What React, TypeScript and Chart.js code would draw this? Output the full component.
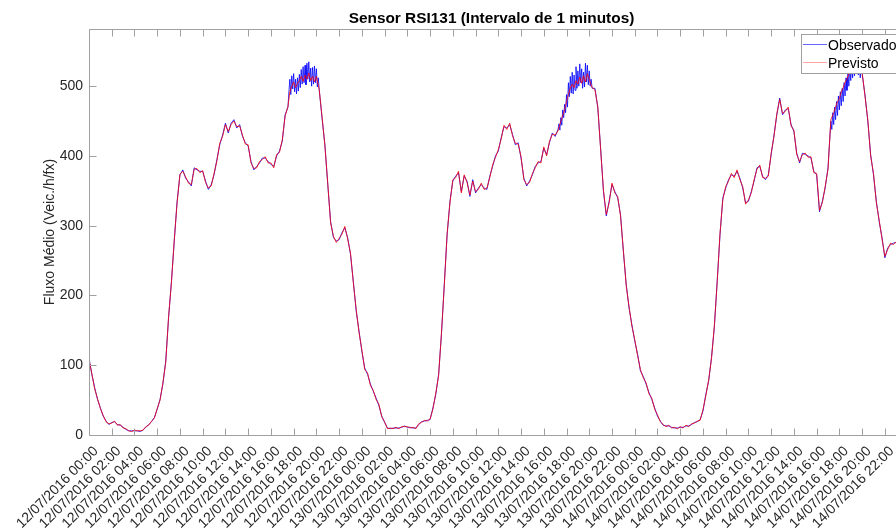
import React, { useEffect, useRef } from "react";
import { Chart, registerables } from "chart.js";

Chart.register(...registerables);

// ---------- data ----------
const START_DAY = 12;
const BASE_STEP_MIN = 15;

// Observado, every 15 minutes from 12/07/2016 00:00 to 14/07/2016 23:00
const observado = [
  110, 87, 68, 51, 39, 27, 20, 15, 18, 19, 15, 14, 11, 8, 6, 6, 6, 6, 5, 7, 11, 15, 19, 25,
  37, 51, 73, 106, 168, 220, 278, 335, 373, 380, 368, 363, 357, 383, 380, 378, 378, 364, 352, 359, 373, 395, 416, 430,
  447, 433, 447, 452, 440, 445, 428, 419, 414, 392, 380, 385, 390, 397, 397, 392, 388, 385, 400, 407, 421, 459, 471, 502,
  505, 500, 505, 516, 512, 521, 512, 512, 516, 495, 454, 416, 359, 306, 283, 278, 280, 290, 297, 283, 259, 220, 178, 149,
  120, 96, 87, 73, 63, 53, 42, 27, 18, 10, 9, 10, 10, 10, 11, 13, 11, 11, 10, 10, 15, 19, 20, 21,
  22, 39, 58, 87, 144, 216, 287, 335, 364, 371, 376, 349, 371, 364, 342, 366, 347, 354, 359, 354, 352, 371, 385, 400,
  407, 426, 442, 440, 445, 431, 416, 419, 397, 368, 357, 364, 373, 385, 390, 392, 411, 402, 419, 433, 428, 438, 450, 462,
  476, 495, 502, 505, 509, 516, 509, 516, 512, 497, 497, 469, 411, 349, 314, 335, 359, 349, 340, 316, 263, 216, 182, 158,
  135, 116, 92, 84, 73, 61, 51, 39, 27, 20, 14, 13, 13, 11, 10, 10, 11, 11, 13, 13, 15, 18, 19, 22,
  34, 58, 77, 111, 154, 220, 287, 340, 354, 366, 373, 371, 378, 368, 354, 333, 335, 349, 364, 383, 385, 371, 366, 373,
  402, 430, 459, 483, 459, 466, 468, 445, 435, 404, 390, 404, 402, 400, 397, 378, 373, 320, 335, 354, 383, 454, 464, 473,
  483, 490, 502, 515, 522, 528, 532, 528, 520, 488, 450, 402, 373, 335, 306, 283, 254, 268, 273, 275, 276,
];

// Previsto, every 15 minutes
const previsto = [
  108, 88, 66, 52, 38, 28, 19, 16, 17, 20, 14, 15, 10, 9, 6, 5, 7, 6, 6, 7, 12, 14, 20, 24,
  38, 50, 75, 104, 170, 218, 280, 333, 374, 378, 370, 361, 359, 381, 382, 376, 379, 362, 354, 357, 375, 393, 418, 428,
  445, 435, 445, 450, 442, 443, 430, 417, 416, 390, 382, 383, 392, 395, 399, 390, 390, 383, 402, 405, 423, 457, 471, 500,
  504, 502, 503, 512, 510, 517, 510, 511, 514, 495, 456, 414, 361, 304, 285, 276, 282, 288, 299, 281, 261, 218, 180, 147,
  122, 94, 89, 71, 64, 51, 44, 26, 19, 9, 10, 9, 11, 9, 12, 12, 12, 10, 11, 9, 16, 18, 21, 20,
  23, 37, 60, 85, 146, 214, 289, 333, 366, 369, 378, 347, 373, 362, 344, 364, 349, 352, 361, 352, 354, 369, 387, 398,
  409, 424, 444, 438, 447, 429, 418, 417, 399, 366, 359, 362, 375, 383, 392, 390, 413, 400, 421, 431, 430, 436, 452, 460,
  478, 493, 500, 504, 507, 512, 507, 512, 510, 498, 495, 471, 409, 351, 316, 333, 361, 347, 342, 314, 265, 214, 184, 156,
  137, 114, 94, 82, 75, 59, 53, 37, 29, 19, 15, 12, 14, 10, 11, 9, 12, 10, 14, 12, 16, 17, 20, 21,
  36, 56, 79, 109, 156, 218, 289, 338, 356, 364, 375, 369, 380, 366, 356, 331, 337, 347, 366, 381, 387, 369, 368, 371,
  404, 428, 461, 481, 461, 464, 470, 443, 437, 402, 392, 402, 404, 398, 399, 376, 375, 322, 333, 356, 381, 452, 462, 471,
  481, 492, 500, 512, 518, 524, 528, 526, 522, 486, 452, 400, 375, 333, 308, 281, 256, 266, 275, 273, 277,
];

// Observado at the evening peaks, every 5 minutes
const obsPeak1Start = 1050; // 12/07 17:30
const obsPeak1 = [
  470, 492, 510, 488, 515, 496, 518, 492, 510, 489, 512, 493, 517, 498, 524, 503, 528,
  505, 530, 502, 533, 510, 535, 506, 526, 500, 527, 503, 529, 505, 525, 499, 512, 495,
];
const obsPeak2Start = 2475; // 13/07 17:15
const obsPeak2 = [
  438, 446, 437, 455, 444, 466, 455, 474, 462, 488, 470, 505, 485, 514, 490, 520, 489, 516, 494,
  528, 497, 522, 500, 532, 505, 525, 497, 520, 499, 533, 506, 530, 502, 522, 500, 510, 497,
];
const obsPeak3Start = 3915; // 14/07 17:15
const obsPeak3 = [
  450, 438, 462, 445, 470, 452, 478, 458, 486, 466, 492, 472, 497, 478, 505, 486, 512,
  494, 520, 500, 528, 508, 533, 512, 538, 515, 540, 520, 538, 516, 534, 512, 530, 518,
];

// Previsto at the evening peaks, every 10 minutes
const prevPeak1Start = 1050;
const prevPeak1 = [471, 492, 500, 506, 498, 504, 508, 514, 507, 516, 510, 519, 508, 514, 506, 514];
const prevPeak2Start = 2490;
const prevPeak2 = [450, 458, 466, 478, 488, 497, 503, 498, 508, 503, 513, 504, 515, 506, 518, 510];
const prevPeak3Start = 3930;
const prevPeak3 = [462, 470, 478, 482, 492, 498, 506, 510, 518, 522, 528, 524, 532, 528, 530, 520];

const xTickHours = [
  0, 2, 4, 6, 8, 10, 12, 14, 16, 18, 20, 22, 24, 26, 28, 30, 32, 34,
  36, 38, 40, 42, 44, 46, 48, 50, 52, 54, 56, 58, 60, 62, 64, 66, 68, 70,
];
const yTicks = [0, 100, 200, 300, 400, 500];

const TITLE = "Sensor RSI131 (Intervalo de 1 minutos)";
const Y_LABEL = "Fluxo Médio (Veic./h/fx)";
const SERIES_NAMES = ["Observado", "Previsto"];

// ---------- helpers ----------
type Peak = { start: number; step: number; values: number[] };

function buildSeries(base: number[], step: number, peaks: Peak[]) {
  const windows = peaks.map((p) => [p.start, p.start + p.step * (p.values.length - 1)]);
  const pts: { x: number; y: number }[] = [];
  base.forEach((v, i) => {
    const t = i * step;
    if (!windows.some(([a, b]) => t >= a && t <= b)) pts.push({ x: t, y: v });
  });
  peaks.forEach((p) => p.values.forEach((v, i) => pts.push({ x: p.start + i * p.step, y: v })));
  pts.sort((a, b) => a.x - b.x);
  return pts;
}

function fmtLabel(m: number) {
  const d = START_DAY + Math.floor(m / 1440);
  const h = Math.floor((m % 1440) / 60);
  return `${d}/07/2016 ${String(h).padStart(2, "0")}:00`;
}

const FONT = "'Liberation Sans', Arial, Helvetica, sans-serif";
const TEXT = "#262626";
const AXIS = "#a0a0a0";

const decorPlugin = {
  id: "decor",
  beforeDraw(chart: any) {
    const { ctx, width, height } = chart;
    ctx.save();
    ctx.fillStyle = "#ffffff";
    ctx.fillRect(0, 0, width, height);
    ctx.restore();
  },
  afterDraw(chart: any) {
    const { ctx, chartArea, scales } = chart;
    const { left, right, top, bottom } = chartArea;
    const L = Math.round(left) + 0.5;
    const T = Math.round(top) + 0.5;
    const B = Math.round(bottom) + 0.5;
    const R = Math.round(right) + 0.5;
    ctx.save();
    ctx.strokeStyle = AXIS;
    ctx.lineWidth = 1;
    ctx.beginPath();
    ctx.moveTo(L, T);
    ctx.lineTo(R, T);
    ctx.lineTo(R, B);
    ctx.lineTo(L, B);
    ctx.closePath();
    ctx.stroke();
    const tl = 7;
    ctx.beginPath();
    xTickHours.forEach((h) => {
      const px = Math.round(scales.x.getPixelForValue(h * 60)) + 0.5;
      ctx.moveTo(px, B);
      ctx.lineTo(px, B - tl);
      ctx.moveTo(px, T);
      ctx.lineTo(px, T + tl);
    });
    yTicks.forEach((v) => {
      const py = Math.round(scales.y.getPixelForValue(v)) + 0.5;
      ctx.moveTo(L, py);
      ctx.lineTo(L + tl, py);
      ctx.moveTo(R, py);
      ctx.lineTo(R - tl, py);
    });
    ctx.stroke();

    // legend
    const lx = 801.5;
    const ly = 34.5;
    ctx.fillStyle = "#ffffff";
    ctx.fillRect(lx, ly, 104, 39);
    ctx.strokeStyle = AXIS;
    ctx.strokeRect(lx, ly, 104, 39);
    ctx.lineWidth = 1;
    ctx.strokeStyle = "rgba(0,0,255,0.6)";
    ctx.beginPath();
    ctx.moveTo(803, 44.5);
    ctx.lineTo(827, 44.5);
    ctx.stroke();
    ctx.strokeStyle = "rgba(255,0,0,0.35)";
    ctx.beginPath();
    ctx.moveTo(803, 62.5);
    ctx.lineTo(827, 62.5);
    ctx.stroke();
    ctx.fillStyle = "#000000";
    ctx.font = `14px ${FONT}`;
    ctx.textAlign = "left";
    ctx.textBaseline = "alphabetic";
    ctx.fillText(SERIES_NAMES[0], 828, 50);
    ctx.fillText(SERIES_NAMES[1], 828, 68);

    // title
    ctx.fillStyle = "#000000";
    ctx.font = `bold 15.4px ${FONT}`;
    ctx.textAlign = "center";
    ctx.textBaseline = "alphabetic";
    ctx.fillText(TITLE, 491.5, 23);

    // y label
    ctx.save();
    ctx.translate(50, (top + bottom) / 2);
    ctx.rotate(-Math.PI / 2);
    ctx.fillStyle = TEXT;
    ctx.font = `14px ${FONT}`;
    ctx.textAlign = "center";
    ctx.textBaseline = "middle";
    ctx.fillText(Y_LABEL, 0, 0);
    ctx.restore();
    ctx.restore();
  },
};

export default function App() {
  const ref = useRef<HTMLCanvasElement | null>(null);
  useEffect(() => {
    if (!ref.current) return;
    const obsPts = buildSeries(observado, BASE_STEP_MIN, [
      { start: obsPeak1Start, step: 5, values: obsPeak1 },
      { start: obsPeak2Start, step: 5, values: obsPeak2 },
      { start: obsPeak3Start, step: 5, values: obsPeak3 },
    ]);
    const prevPts = buildSeries(previsto, BASE_STEP_MIN, [
      { start: prevPeak1Start, step: 10, values: prevPeak1 },
      { start: prevPeak2Start, step: 10, values: prevPeak2 },
      { start: prevPeak3Start, step: 10, values: prevPeak3 },
    ]);
    const chart = new Chart(ref.current, {
      type: "line",
      data: {
        datasets: [
          {
            label: SERIES_NAMES[0],
            data: obsPts,
            borderColor: "rgb(0,0,255)",
            borderWidth: 0.8,
            pointRadius: 0,
            tension: 0,
            order: 1,
          },
          {
            label: SERIES_NAMES[1],
            data: prevPts,
            borderColor: "rgb(255,0,0)",
            borderWidth: 0.8,
            pointRadius: 0,
            tension: 0,
            order: 0,
          },
        ],
      },
      options: {
        animation: false,
        responsive: false,
        maintainAspectRatio: false,
        devicePixelRatio: 1,
        layout: { padding: { left: 0, right: 4.4, top: 29, bottom: 0 } },
        plugins: {
          legend: { display: false },
          title: { display: false },
          tooltip: { enabled: false },
        },
        scales: {
          x: {
            type: "linear",
            min: 0,
            max: 4320,
            grid: { display: false, drawTicks: false },
            border: { display: false },
            afterBuildTicks: (s: any) => {
              s.ticks = xTickHours.map((h) => ({ value: h * 60 }));
            },
            afterFit: (s: any) => {
              s.height = 96;
            },
            ticks: {
              autoSkip: false,
              minRotation: 45,
              maxRotation: 45,
              padding: 8,
              labelOffset: 7,
              color: TEXT,
              font: { family: FONT, size: 14 },
              callback: (v: any) => fmtLabel(Number(v)),
            },
          },
          y: {
            type: "linear",
            min: 0,
            max: 582,
            grid: { display: false, drawTicks: false },
            border: { display: false },
            afterBuildTicks: (s: any) => {
              s.ticks = yTicks.map((v) => ({ value: v }));
            },
            afterFit: (s: any) => {
              s.width = 89;
            },
            ticks: {
              padding: 6,
              color: TEXT,
              font: { family: FONT, size: 14 },
            },
          },
        },
      },
      plugins: [decorPlugin],
    });
    return () => chart.destroy();
  }, []);

  return (
    <div
      style={{
        position: "fixed",
        left: 0,
        top: 0,
        width: 896,
        height: 531,
        overflow: "hidden",
        background: "#fff",
      }}
    >
      <canvas ref={ref} width={912} height={531} style={{ display: "block" }} />
    </div>
  );
}
